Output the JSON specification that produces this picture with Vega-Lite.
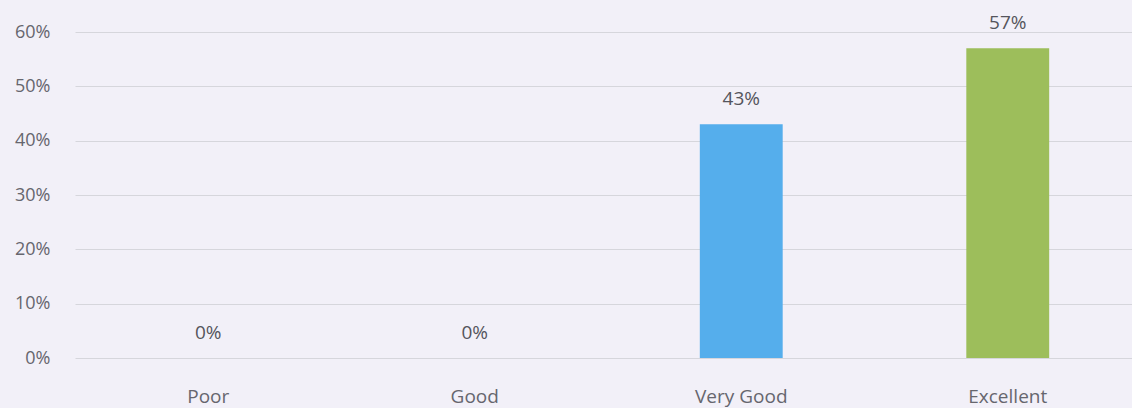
{
  "$schema": "https://vega.github.io/schema/vega-lite/v6.json",
  "width": 1057,
  "height": 326,
  "autosize": {"type": "none"},
  "padding": {"left": 75, "top": 32, "right": 0, "bottom": 50},
  "background": "#F2F0F8",
  "config": {
    "view": {"stroke": null},
    "font": "Open Sans",
    "axis": {"labelColor": "#66666E", "labelFont": "Open Sans"}
  },
  "data": {
    "values": [
      {"rating": "Poor", "share": 0},
      {"rating": "Good", "share": 0},
      {"rating": "Very Good", "share": 0.43},
      {"rating": "Excellent", "share": 0.57}
    ]
  },
  "encoding": {
    "x": {
      "field": "rating",
      "type": "nominal",
      "sort": null,
      "scale": {"paddingInner": 0.689, "paddingOuter": 0.3445, "range": [0, 1066]},
      "axis": {
        "title": null,
        "labelAngle": 0,
        "domain": false,
        "ticks": false,
        "labelPadding": 29,
        "labelFontSize": 19
      }
    },
    "y": {
      "field": "share",
      "type": "quantitative",
      "scale": {"domain": [0, 0.6]},
      "axis": {
        "title": null,
        "format": ".0%",
        "values": [0, 0.1, 0.2, 0.3, 0.4, 0.5, 0.6],
        "domain": false,
        "ticks": false,
        "labelPadding": 25,
        "labelFontSize": 18,
        "gridColor": "#D6D6DC",
        "gridWidth": 1
      }
    }
  },
  "layer": [
    {
      "mark": {"type": "bar"},
      "encoding": {
        "color": {
          "field": "rating",
          "type": "nominal",
          "scale": {
            "domain": ["Poor", "Good", "Very Good", "Excellent"],
            "range": ["#4F81BD", "#C0504D", "#55AEEC", "#9DBE5B"]
          },
          "legend": null
        }
      }
    },
    {
      "mark": {"type": "text", "dy": -25, "fontSize": 19, "color": "#55555C", "baseline": "middle"},
      "encoding": {
        "text": {"field": "share", "type": "quantitative", "format": ".0%"}
      }
    }
  ]
}
